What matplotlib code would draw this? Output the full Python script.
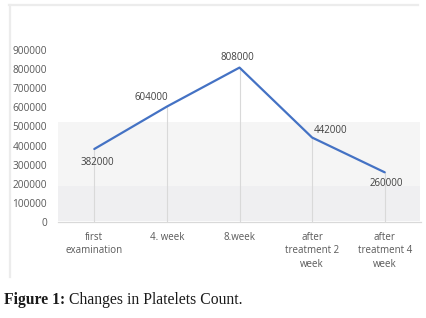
import matplotlib
matplotlib.use("Agg")
import matplotlib.pyplot as plt
from matplotlib.patches import Rectangle
from matplotlib.lines import Line2D

categories = ["first\nexamination", "4. week", "8.week", "after\ntreatment 2\nweek", "after\ntreatment 4\nweek"]
platelets = [382000, 604000, 808000, 442000, 260000]
yticks = [0, 100000, 200000, 300000, 400000, 500000, 600000, 700000, 800000, 900000]
# label offsets (points) for each data label, centre of text
label_offsets = [(2, -9.4), (-11.5, 6.2), (-1.4, 7.6), (13, 5.4), (1.4, -7.9)]

plt.rcParams['font.family'] = ['Open Sans', 'DejaVu Sans']

fig = plt.figure(figsize=(4.27, 3.18), dpi=100)
W, H = 427, 318

# faint outer frame of the chart area
fig.add_artist(Line2D([9 / W, 418 / W], [1 - 5 / H, 1 - 5 / H], color='#ececec', lw=1.6))
fig.add_artist(Line2D([10 / W, 10 / W], [1 - 5 / H, 1 - 277 / H], color='#ececec', lw=1.6))

# light grey background bands
fig.add_artist(Rectangle((58 / W, 1 - 186 / H), 362 / W, 64 / H, color='#f5f5f5', lw=0, zorder=0))
fig.add_artist(Rectangle((58 / W, 1 - 221 / H), 362 / W, 35 / H, color='#efeff1', lw=0, zorder=0))

ax = fig.add_axes([58 / W, 1 - 222 / H, 363 / W, 172 / H])
ax.patch.set_alpha(0)
x = list(range(len(categories)))

# drop lines from the points to the axis
for xi, yi in zip(x, platelets):
    ax.plot([xi, xi], [0, yi], color='#d9d9d9', lw=0.8, zorder=1)

ax.plot(x, platelets, color='#4472c4', lw=1.6, solid_capstyle='round', zorder=3)

for xi, yi, off in zip(x, platelets, label_offsets):
    ax.annotate(str(yi), (xi, yi), xytext=off, textcoords='offset points',
                ha='center', va='center', fontsize=7, color='#404040')

ax.set_xlim(-0.5, len(categories) - 0.5)
ax.set_ylim(0, 900000)
ax.set_yticks(yticks)
ax.set_yticklabels([str(v) for v in yticks])
ax.set_xticks(x)
ax.set_xticklabels(categories, linespacing=1.3)
ax.tick_params(axis='both', length=0, labelsize=7, colors='#595959')
ax.tick_params(axis='y', pad=8, labelsize=7.3)
ax.tick_params(axis='x', pad=7)
for s in ['top', 'right', 'left']:
    ax.spines[s].set_visible(False)
ax.spines['bottom'].set_color('#d9d9d9')
ax.spines['bottom'].set_linewidth(0.9)

# caption: bold label followed by normal text
t1 = fig.text(4 / W, 1 - 300 / H, "Figure 1:", fontsize=11.3, fontweight='bold',
              family=['Liberation Serif'], va='center', ha='left', color='#1a1a1a')
ax.annotate("Changes in Platelets Count.", xy=(1, 0.5), xycoords=t1,
            xytext=(3, 0), textcoords='offset points', fontsize=11.3,
            family=['Liberation Serif'], va='center', ha='left', color='#1a1a1a',
            annotation_clip=False)

fig.savefig("out.png", dpi=100)
